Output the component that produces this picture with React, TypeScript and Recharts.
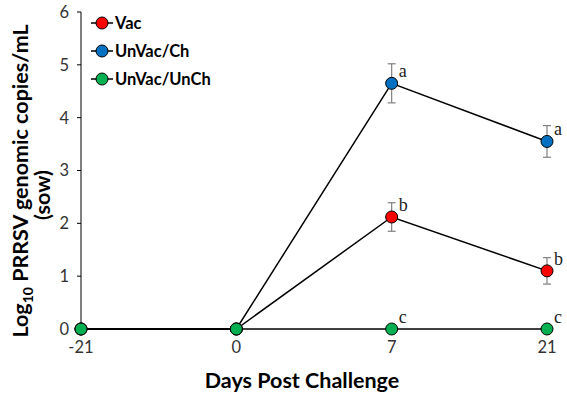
import { LineChart, Line, XAxis, YAxis, ErrorBar, LabelList, Label } from "recharts";

// days post challenge
const days = ["-21", "0", "7", "21"];

// log10 genomic copies/mL
const vac = [0, 0, 2.12, 1.1];
const vacErr = [0, 0, 0.27, 0.25];
const vacSig = ["", "", "b", "b"];

const unvacCh = [0, 0, 4.65, 3.55];
const unvacChErr = [0, 0, 0.37, 0.3];
const unvacChSig = ["", "", "a", "a"];

const unvacUnch = [0, 0, 0, 0];
const unvacUnchErr = [0, 0, 0, 0];
const unvacUnchSig = ["", "", "c", "c"];

const yTicks = [0, 1, 2, 3, 4, 5, 6];

const seriesNames = ["Vac", "UnVac/Ch", "UnVac/UnCh"];
const seriesColors = ["#FF0000", "#0070C0", "#00B050"];

const data = days.map((d, i) => ({
  day: d,
  vac: vac[i],
  vacErr: vacErr[i],
  vacSig: vacSig[i],
  ch: unvacCh[i],
  chErr: unvacChErr[i],
  chSig: unvacChSig[i],
  unch: unvacUnch[i],
  unchErr: unvacUnchErr[i],
  unchSig: unvacUnchSig[i],
}));

const sans = "Lato, 'Open Sans', sans-serif";

const SigLabel = (props: any) => {
  const { x, y, value } = props;
  if (!value) return null;
  return (
    <text x={x + 7} y={y - 6} fontFamily="'Liberation Serif', serif" fontSize={18} fill="#222">
      {value}
    </text>
  );
};

// legend drawn as its own small svg, laid over the chart
const ChartLegend = () => (
  <svg width={170} height={85} style={{ position: "absolute", left: 88, top: 10 }}>
    {seriesNames.map((name, i) => {
      const cy = 13 + i * 28;
      return (
        <g key={name}>
          <line x1={3} x2={25} y1={cy} y2={cy} stroke="#000" strokeWidth={1.5} />
          <circle cx={14} cy={cy} r={6} fill={seriesColors[i]} stroke="#000" strokeWidth={1} />
          <text x={27} y={cy + 6} fontFamily={sans} fontWeight="bold" fontSize={16.5} fill="#000">
            {name}
          </text>
        </g>
      );
    })}
  </svg>
);

const YTitle = () => (
  <g fontFamily={sans} fontWeight="bold" fontSize={21.5} fill="#000">
    <text transform="translate(28,181) rotate(-90)" textAnchor="middle">
      Log<tspan fontSize={14} dy={5}>10</tspan>
      <tspan dy={-5}> PRRSV genomic copies/mL</tspan>
    </text>
    <text transform="translate(50,195) rotate(-90)" textAnchor="middle">
      (sow)
    </text>
  </g>
);

const XTitle = () => (
  <text x={302} y={388} textAnchor="middle" fontFamily={sans} fontWeight="bold" fontSize={21.5} fill="#000">
    Days Post Challenge
  </text>
);

export default function App() {
  return (
    <div style={{ position: "absolute", left: 0, top: 0, width: 567, height: 393, background: "#fff" }}>
      <LineChart width={567} height={393} data={data} margin={{ top: 12, right: 20, bottom: 34, left: 0 }}>
        <XAxis
          dataKey="day"
          type="category"
          padding={{ left: 0, right: 0 }}
          axisLine={false}
          tickLine={false}
          height={30}
          tick={{ fill: "#333", fontSize: 16.5, fontFamily: sans }}
          tickMargin={6}
        >
          <Label content={() => <XTitle />} />
        </XAxis>
        <YAxis
          domain={[0, 6]}
          ticks={yTicks}
          width={81}
          axisLine={{ stroke: "#000" }}
          tickLine={{ stroke: "#000" }}
          tickSize={4}
          tick={{ fill: "#333", fontSize: 16.5, fontFamily: sans }}
          tickMargin={8}
        >
          <Label content={() => <YTitle />} />
        </YAxis>
        <Line
          dataKey="vac"
          name="Vac"
          stroke="#000"
          strokeWidth={1.5}
          dot={{ r: 6, fill: seriesColors[0], stroke: "#000", strokeWidth: 1 }}
          isAnimationActive={false}
        >
          <ErrorBar dataKey="vacErr" direction="y" width={4} stroke="#808080" strokeWidth={1.2} />
          <LabelList dataKey="vacSig" content={SigLabel} />
        </Line>
        <Line
          dataKey="ch"
          name="UnVac/Ch"
          stroke="#000"
          strokeWidth={1.5}
          dot={{ r: 6, fill: seriesColors[1], stroke: "#000", strokeWidth: 1 }}
          isAnimationActive={false}
        >
          <ErrorBar dataKey="chErr" direction="y" width={4} stroke="#808080" strokeWidth={1.2} />
          <LabelList dataKey="chSig" content={SigLabel} />
        </Line>
        <Line
          dataKey="unch"
          name="UnVac/UnCh"
          stroke="#000"
          strokeWidth={1.5}
          dot={{ r: 6, fill: seriesColors[2], stroke: "#000", strokeWidth: 1 }}
          isAnimationActive={false}
        >
          <ErrorBar dataKey="unchErr" direction="y" width={4} stroke="#808080" strokeWidth={1.2} />
          <LabelList dataKey="unchSig" content={SigLabel} />
        </Line>
      </LineChart>
      <ChartLegend />
    </div>
  );
}
